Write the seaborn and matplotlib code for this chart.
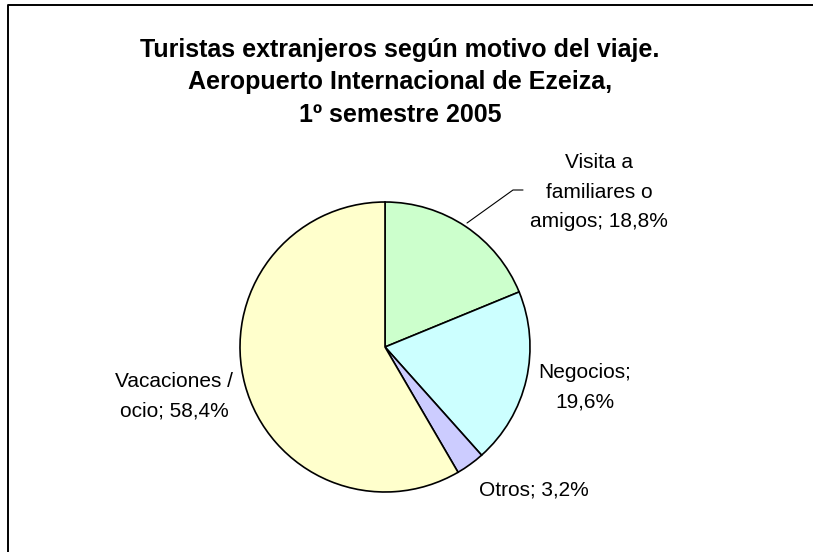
import matplotlib
matplotlib.use("Agg")
import matplotlib.pyplot as plt
from matplotlib.lines import Line2D
import seaborn as sns

# datos
categorias = ["Visita a\nfamiliares o\namigos", "Negocios", "Otros", "Vacaciones /\nocio"]
porcentajes = [18.8, 19.6, 3.2, 58.4]
separadores = [" ", "\n", " ", " "]
colores = ["#CCFFCC", "#CCFFFF", "#CCCCFF", "#FFFFCC"]
titulo = "Turistas extranjeros según motivo del viaje.\nAeropuerto Internacional de Ezeiza,\n1º semestre 2005"

W, H = 813, 552

# posiciones de las etiquetas en pixeles (centro x, primera linea base y)
pos_etiquetas = [(599, 168), (585, 378), (534, 495), (174, 387)]
paso_etiqueta = 29.5
centro_pie = (385, 347)
radio_pie = 145


def fx(px):
    return px / W


def fy(py):
    return 1 - py / H


def put_lines(fig, x, y, text, step, **kw):
    for i, line in enumerate(text.split("\n")):
        fig.text(fx(x), fy(y + i * step), line, ha="center", va="baseline", **kw)


sns.set_theme(style="white")
plt.rcParams["font.family"] = ["Liberation Sans", "DejaVu Sans"]

fig = plt.figure(figsize=(W / 100, H / 100), dpi=100)
fig.patch.set_facecolor("white")

pad = 5
size = radio_pie + pad
ax = fig.add_axes([
    fx(centro_pie[0] - size),
    fy(centro_pie[1] + size),
    2 * size / W,
    2 * size / H,
])
ax.pie(
    porcentajes,
    colors=sns.color_palette(colores),
    startangle=90,
    counterclock=False,
    radius=1,
    wedgeprops=dict(edgecolor="black", linewidth=1.2),
)
lim = size / radio_pie
ax.set_xlim(-lim, lim)
ax.set_ylim(-lim, lim)
ax.axis("off")

# etiquetas
for nombre, valor, sep, (x, y) in zip(categorias, porcentajes, separadores, pos_etiquetas):
    etiqueta = f"{nombre};{sep}{valor:.1f}%".replace(".", ",")
    put_lines(fig, x, y, etiqueta, paso_etiqueta, fontsize=15, color="black")

# linea guia de "Visita a familiares"
fig.add_artist(Line2D([fx(467), fx(513), fx(523)], [fy(223), fy(190), fy(190)],
                      color="black", linewidth=0.8))

# titulo
put_lines(fig, 400, 57, titulo, 32.5, fontsize=18, fontweight="bold", color="black")

# marco
fig.add_artist(Line2D([fx(8), fx(8), fx(W)], [0, fy(5), fy(5)], color="black", linewidth=1.4))

fig.savefig("out.png", dpi=100)
